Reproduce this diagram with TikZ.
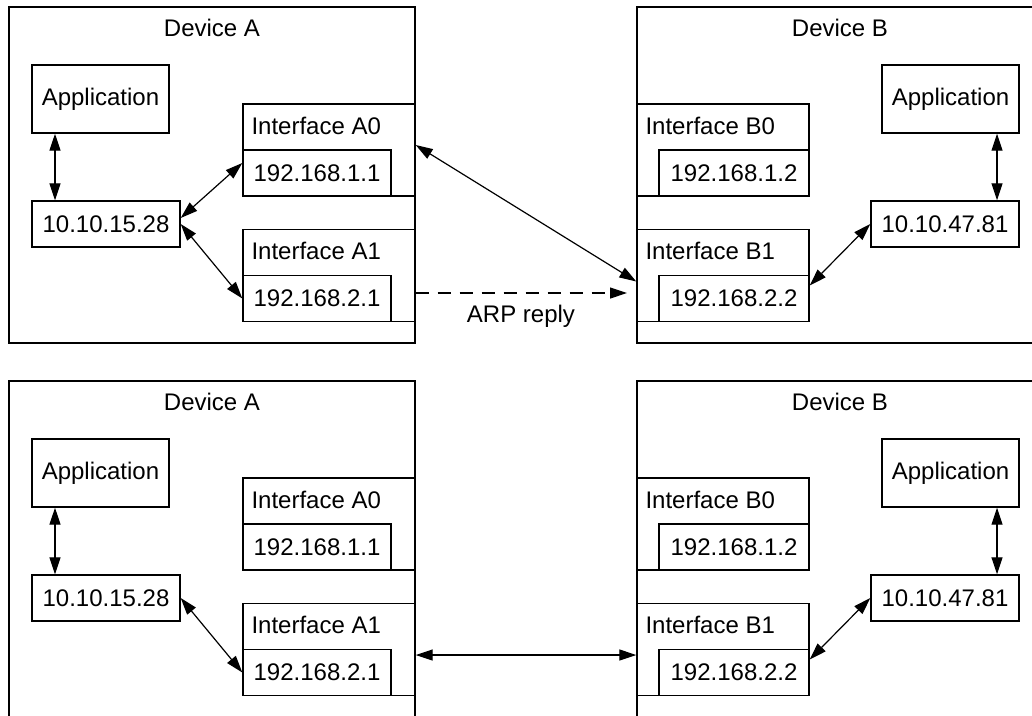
\documentclass[tikz,border=0pt]{standalone}
\usepackage{fontspec}
\setmainfont{Liberation Sans}
\usetikzlibrary{arrows.meta}
\tikzset{
  box/.style={draw, line width=1.4pt, inner sep=0pt, font=\fontsize{24}{28}\selectfont},
  txt/.style={inner sep=0pt, font=\fontsize{24}{28}\selectfont},
  arr/.style={line width=1.2pt, {Triangle[length=17pt,width=11pt]}-{Triangle[length=17pt,width=11pt]}},
  arrone/.style={line width=1.2pt, -{Triangle[length=17pt,width=11pt]}},
}
\newcommand\drawhalf[2]{%
  \begin{scope}[shift={(0,#2)}]
    % Device A
    \node[box, minimum width=406pt, minimum height=336pt] (dA#1) at (212,175) {};
    \node[txt, anchor=base] (dAt#1) at ([yshift=-30pt]dA#1.north) {Device A};
    \node[box, minimum width=137pt, minimum height=68pt] (appA#1) at (100.5,99) {Application};
    \node[box, minimum width=148pt, minimum height=46pt] (hostA#1) at (106,224) {10.10.15.28};
    \node[box, minimum width=172pt, minimum height=92pt] (ifA0#1) at (329,150) {};
    \node[txt, anchor=base west] (ifA0t#1) at ([xshift=9pt,yshift=-31pt]ifA0#1.north west) {Interface A0};
    \node[box, minimum width=148pt, minimum height=46pt] (ipA0#1) at (317,173) {192.168.1.1};
    \node[box, minimum width=172pt, minimum height=92pt] (ifA1#1) at (329,275.5) {};
    \node[txt, anchor=base west] (ifA1t#1) at ([xshift=9pt,yshift=-31pt]ifA1#1.north west) {Interface A1};
    \node[box, minimum width=148pt, minimum height=46pt] (ipA1#1) at (317,298.5) {192.168.2.1};
    % Device B
    \node[box, minimum width=406pt, minimum height=336pt] (dB#1) at (840,175) {};
    \node[txt, anchor=base] (dBt#1) at ([yshift=-30pt]dB#1.north) {Device B};
    \node[box, minimum width=137pt, minimum height=68pt] (appB#1) at (950.5,99) {Application};
    \node[box, minimum width=148pt, minimum height=46pt] (hostB#1) at (945,224) {10.10.47.81};
    \node[box, minimum width=172pt, minimum height=92pt] (ifB0#1) at (723,150) {};
    \node[txt, anchor=base west] (ifB0t#1) at ([xshift=9pt,yshift=-31pt]ifB0#1.north west) {Interface B0};
    \node[box, minimum width=150pt, minimum height=46pt] (ipB0#1) at (734,173) {192.168.1.2};
    \node[box, minimum width=172pt, minimum height=92pt] (ifB1#1) at (723,275.5) {};
    \node[txt, anchor=base west] (ifB1t#1) at ([xshift=9pt,yshift=-31pt]ifB1#1.north west) {Interface B1};
    \node[box, minimum width=150pt, minimum height=46pt] (ipB1#1) at (734,298.5) {192.168.2.2};
    % common connectors
    \draw[arr] ([xshift=-45.5pt]appA#1.south) -- ([xshift=-51pt]hostA#1.north);
    \draw[arr] ([xshift=46.5pt]appB#1.south) -- ([xshift=52pt]hostB#1.north);
    \draw[arr] (hostA#1.east) -- ([yshift=0pt]ipA1#1.west);
    \draw[arr] ([yshift=13pt]ipB1#1.east) -- (hostB#1.west);
  \end{scope}%
}
\begin{document}
\begin{tikzpicture}[x=1pt,y=-1pt]
\useasboundingbox (0,0) rectangle (1032,715);
\clip (0,0) rectangle (1032,715);
\drawhalf{t}{0}
\drawhalf{b}{374}
% top-only connectors
\draw[arr] ([yshift=6pt]hostAt.east) -- ([yshift=10pt]ipA0t.west);
\draw[arr] ([yshift=5pt]ifA0t.east) -- ([yshift=-6pt]ifB1t.west);
\coordinate (arpEnd) at (627,293);
\draw[arrone, dash pattern=on 13pt off 9pt] ([yshift=-17.5pt]ifA1t.east) -- (arpEnd);
\node[txt, anchor=base] (arp) at (521,322) {ARP reply};
% bottom-only connector
\draw[arr] ([yshift=-5.5pt]ifA1b.east) -- ([yshift=-5.5pt]ifB1b.west);
\end{tikzpicture}
\end{document}
